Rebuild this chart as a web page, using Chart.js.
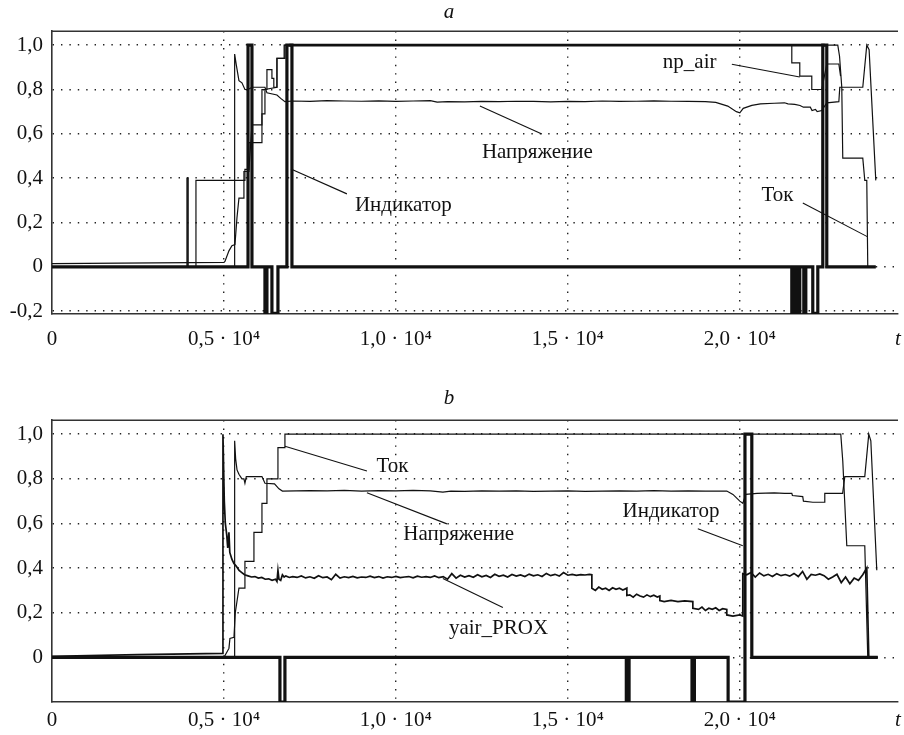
<!DOCTYPE html>
<html>
<head>
<meta charset="utf-8">
<script src="https://cdn.jsdelivr.net/npm/chart.js@4.4.0/dist/chart.umd.min.js"></script>
<style>
  html, body { margin: 0; padding: 0; background: #fff; }
  #wrap { position: relative; width: 904px; height: 735px; }
  .panel { position: absolute; left: 0; width: 904px; }
  #pa { top: 0; height: 365px; }
  #pb { top: 365px; height: 370px; }
</style>
</head>
<body>
<div id="wrap">
  <div class="panel" id="pa"><canvas id="chartA"></canvas></div>
  <div class="panel" id="pb"><canvas id="chartB"></canvas></div>
</div>
<script>
const SERIF = '"Liberation Serif", "Times New Roman", serif';
const X_MAX = 24600;

// axis ticks
const xTickVals = [0, 5000, 10000, 15000, 20000];
const xTickLabels = ['0', '0,5 · 10⁴', '1,0 · 10⁴', '1,5 · 10⁴', '2,0 · 10⁴'];
const yTicksA = [-0.2, 0, 0.2, 0.4, 0.6, 0.8, 1.0];
const yTicksB = [0, 0.2, 0.4, 0.6, 0.8, 1.0];

// ---- panel a ----
const indA_t = [0, 5700, 5700, 5814, 5814, 6192, 6192, 6250, 6250, 6395, 6395, 6570, 6570, 6831, 6831, 6977, 6977,
  21512, 21512, 21599, 21599, 21657, 21657, 21744, 21744, 21861, 21861, 21919, 21919, 22122, 22122, 22268, 22268,
  22413, 22413, 22529, 22529, 23954];
const indA_v = [0, 0, 1, 1, 0, 0, -0.21, -0.21, 0, 0, -0.21, -0.21, 0, 0, 1, 1, 0,
  0, -0.21, -0.21, 0, 0, -0.21, -0.21, 0, 0, -0.21, -0.21, 0, 0, -0.21, -0.21, 0,
  0, 1, 1, 0, 0];
const topA_t = [6900, 22470];
const topA_v = [1, 1];

const tokA_t = [0, 5000, 5029, 5145, 5232, 5320, 5378, 5436, 5581, 5581, 5727, 5727, 6105, 6105, 6192, 6192, 6541, 6541,
  6773, 6773, 22849, 22900, 22965, 22994, 23576, 23634, 23692, 23721, 23954];
const tokA_v = [0.014, 0.02, 0.024, 0.072, 0.095, 0.1, 0.22, 0.31, 0.31, 0.43, 0.43, 0.56, 0.56, 0.69, 0.69, 0.8, 0.81, 0.94,
  0.94, 1.0, 1.0, 0.95, 0.81, 0.49, 0.49, 0.39, 0.39, 0, 0];

const airA_t = [0, 3924, 3924, 3960, 3960, 4186, 4186, 5610, 5610, 5727, 5814, 6105, 6105, 6250, 6250, 6395, 6395, 6450,
  6450, 6541, 6541, 6750, 6750, 21512, 21512, 21744, 21744, 22093, 22093, 22384, 22529, 22880, 22930];
const airA_v = [0, 0, 0.4, 0.4, 0, 0, 0.39, 0.39, 0.44, 0.44, 0.64, 0.64, 0.8, 0.8, 0.89, 0.89, 0.85, 0.85,
  0.81, 0.81, 0.94, 0.94, 1.0, 1.0, 0.92, 0.92, 0.86, 0.86, 0.8, 0.8, 0.915, 0.915, 0.86];

const voltA_t = [0, 5311, 5311, 5360, 5436, 5523, 5610, 5700, 5814, 6192, 6250, 6541, 6650, 6773,
  7000, 7500, 8000, 8500, 9000, 9500, 10000, 10500, 11000, 11200, 11500, 12000, 12500, 13000, 13500, 14000,
  14500, 15000, 15500, 16000, 16500, 17000, 17500, 18000, 18500, 19000, 19300, 19650, 19900, 20000, 20100,
  20350, 20600, 21000, 21300, 21400, 21600, 21750, 21850, 22050, 22100, 22200, 22250, 22384, 22529, 22880,
  22907, 23576, 23692, 23760, 23954];
const voltA_v = [0, 0, 0.96, 0.91, 0.84, 0.83, 0.8, 0.8, 0.81, 0.81, 0.785, 0.775, 0.76, 0.745,
  0.748, 0.746, 0.75, 0.748, 0.747, 0.749, 0.746, 0.748, 0.75, 0.743, 0.745, 0.744, 0.746, 0.745, 0.747, 0.746,
  0.744, 0.746, 0.745, 0.748, 0.746, 0.747, 0.749, 0.747, 0.746, 0.745, 0.742, 0.725, 0.7, 0.695, 0.715,
  0.728, 0.735, 0.738, 0.74, 0.735, 0.733, 0.728, 0.72, 0.72, 0.705, 0.71, 0.7, 0.705, 0.74, 0.745,
  0.81, 0.81, 1.0, 0.98, 0.39];

// ---- panel b ----
const indB_t = [0, 6628, 6628, 6773, 6773, 16700, 16700, 16780, 16780, 18610, 18610, 18680, 18680, 19660, 19660,
  20150, 20150, 20349, 20349, 24012];
const indB_v = [0, 0, -0.2, -0.2, 0, 0, -0.2, -0.2, 0, 0, -0.2, -0.2, 0, 0, -0.2,
  -0.2, 1, 1, 0, 0];

const tokB_t = [0, 5000, 5145, 5174, 5291, 5330, 5436, 5610, 5610, 5872, 5872, 6105, 6105, 6250, 6250, 6570, 6570,
  6773, 6773, 22936, 22994, 23111, 23634, 23721, 24012];
const tokB_v = [0, 0, 0.04, 0.085, 0.09, 0.2, 0.31, 0.31, 0.43, 0.43, 0.56, 0.56, 0.69, 0.69, 0.8, 0.8, 0.94,
  0.94, 1.0, 1.0, 0.88, 0.5, 0.5, 0, 0];

const voltB_t = [0, 5311, 5311, 5340, 5380, 5436, 5523, 5581, 5610, 5650, 6105, 6192, 6470, 6600, 6700,
  7500, 8000, 8500, 9000, 9500, 10000, 10500, 11000, 11366, 11600, 12000, 12500, 13000, 13500, 14000, 14500,
  15000, 15500, 16000, 16500, 17000, 17500, 18000, 18500, 19000, 19622, 19800, 20000, 20087, 20175, 20500,
  21000, 21300, 21512, 21530, 21830, 21850, 22122, 22470, 22471, 22990, 23053, 23634, 23750, 23810, 23983];
const voltB_v = [0, 0, 0.97, 0.89, 0.84, 0.82, 0.8, 0.8, 0.78, 0.81, 0.81, 0.78, 0.777, 0.755, 0.745,
  0.747, 0.746, 0.748, 0.745, 0.747, 0.746, 0.748, 0.746, 0.74, 0.745, 0.744, 0.746, 0.745, 0.746, 0.744, 0.745,
  0.746, 0.744, 0.745, 0.746, 0.745, 0.747, 0.745, 0.746, 0.745, 0.745, 0.73, 0.7, 0.69, 0.73, 0.735,
  0.737, 0.735, 0.735, 0.725, 0.72, 0.7, 0.695, 0.695, 0.735, 0.735, 0.81, 0.81, 1.0, 0.97, 0.39];

const yairB_t = [0, 2500, 4971, 4971, 4990, 5010, 5040, 5080, 5110, 5145, 5170, 5230, 5290, 5350, 5440, 5520, 5600,
  5700, 5800, 5900, 6000, 6100, 6200, 6300, 6400, 6500, 6541, 6570, 6600, 6650, 6700, 6750, 6800, 6900,
  7000, 7125, 7250, 7375, 7500, 7625, 7750, 7875, 8000, 8125, 8250, 8375, 8500, 8625, 8750, 8875,
  9000, 9125, 9250, 9375, 9500, 9625, 9750, 9875, 10000, 10125, 10250, 10375, 10500, 10625, 10750, 10875,
  11000, 11125, 11250, 11375, 11500, 11625, 11750, 11875, 12000, 12125, 12250, 12375, 12500, 12625, 12750, 12875,
  13000, 13125, 13250, 13375, 13500, 13625, 13750, 13875, 14000, 14125, 14250, 14375, 14500, 14625, 14750, 14875,
  15000, 15125, 15250, 15375, 15500, 15625, 15698, 15698, 15800, 15900, 16000, 16100, 16200, 16300, 16400, 16500,
  16600, 16715, 16715, 16800, 16900, 17000, 17100, 17200, 17300, 17400, 17500, 17600, 17675, 17675, 17800, 18000,
  18200, 18400, 18634, 18634, 18800, 18900, 19000, 19100, 19200, 19300, 19400, 19500, 19622, 19622, 19800, 20000,
  20087, 20087, 20200, 20325, 20450, 20575, 20700, 20825, 20950, 21075, 21200, 21325, 21450, 21575, 21700, 21825,
  21950, 22075, 22200, 22325, 22450, 22575, 22700, 22825, 22950, 23075, 23200, 23325, 23450, 23575, 23692, 23750, 24012];
const yairB_v = [0.005, 0.012, 0.018, 1.0, 0.85, 0.7, 0.6, 0.55, 0.49, 0.56, 0.47, 0.44, 0.42, 0.41, 0.39, 0.38, 0.37,
  0.365, 0.36, 0.362, 0.355, 0.358, 0.35, 0.352, 0.345, 0.35, 0.34, 0.39, 0.35, 0.345, 0.37, 0.36, 0.365, 0.358,
  0.362, 0.358, 0.365, 0.356, 0.361, 0.354, 0.366, 0.357, 0.36, 0.348, 0.372, 0.355, 0.361, 0.357, 0.363, 0.356,
  0.36, 0.358, 0.364, 0.357, 0.362, 0.355, 0.361, 0.358, 0.363, 0.357, 0.36, 0.362, 0.356, 0.364, 0.359, 0.362,
  0.358, 0.365, 0.357, 0.362, 0.35, 0.375, 0.355, 0.368, 0.36, 0.366, 0.359, 0.37, 0.361, 0.367, 0.358, 0.372,
  0.363, 0.368, 0.36, 0.371, 0.364, 0.369, 0.362, 0.373, 0.365, 0.37, 0.362, 0.376, 0.366, 0.372, 0.364, 0.38,
  0.368, 0.372, 0.367, 0.371, 0.369, 0.372, 0.37, 0.31, 0.3, 0.315, 0.305, 0.31, 0.3, 0.312, 0.305, 0.31,
  0.302, 0.31, 0.277, 0.28, 0.27, 0.283, 0.275, 0.27, 0.28, 0.272, 0.278, 0.27, 0.275, 0.254, 0.25, 0.255,
  0.25, 0.253, 0.25, 0.22, 0.215, 0.225, 0.21, 0.22, 0.215, 0.222, 0.21, 0.218, 0.215, 0.19, 0.185, 0.19,
  0.185, 0.375, 0.37, 0.38, 0.36, 0.378, 0.365, 0.372, 0.362, 0.375, 0.366, 0.371, 0.364, 0.376, 0.362, 0.385,
  0.35, 0.372, 0.368, 0.374, 0.366, 0.35, 0.36, 0.372, 0.335, 0.36, 0.33, 0.355, 0.345, 0.37, 0.4, 0, 0];

// leader lines [x1, y1, x2, y2]
const leadersA = [[12442, 0.725, 14244, 0.599], [6948, 0.441, 8576, 0.329], [19768, 0.914, 21744, 0.856], [21832, 0.288, 23721, 0.135]];
const leadersB = [[6773, 0.946, 9157, 0.835], [9157, 0.737, 11483, 0.598], [11366, 0.353, 13110, 0.223], [18779, 0.576, 20087, 0.5]];

const notesA = [
  { text: 'Напряжение', x: 12500, y: 0.514 },
  { text: 'Индикатор', x: 8808, y: 0.275 },
  { text: 'np_air', x: 17762, y: 0.922 },
  { text: 'Ток', x: 20631, y: 0.32 }
];
const notesB = [
  { text: 'Ток', x: 9438, y: 0.854 },
  { text: 'Напряжение', x: 10213, y: 0.55 },
  { text: 'yair_PROX', x: 11541, y: 0.131 },
  { text: 'Индикатор', x: 16590, y: 0.654 }
];

function pts(ts, vs) { return ts.map((t, i) => ({ x: t, y: vs[i] })); }

function line(ts, vs, width) {
  return { data: pts(ts, vs), borderColor: '#111', borderWidth: width, pointRadius: 0, tension: 0, fill: false };
}

function leaderSets(list) {
  return list.map(l => ({ data: [{ x: l[0], y: l[1] }, { x: l[2], y: l[3] }], borderColor: '#111', borderWidth: 1.1, pointRadius: 0 }));
}

function notesPlugin(items) {
  return {
    id: 'notes',
    afterDatasetsDraw(chart) {
      const { ctx, scales } = chart;
      ctx.save();
      ctx.font = '21px ' + SERIF;
      ctx.fillStyle = '#111';
      ctx.textBaseline = 'middle';
      ctx.textAlign = 'left';
      items.forEach(n => ctx.fillText(n.text, scales.x.getPixelForValue(n.x), scales.y.getPixelForValue(n.y)));
      ctx.restore();
    }
  };
}

const frameTop = {
  id: 'frameTop',
  afterDraw(chart) {
    const { ctx, chartArea: a } = chart;
    ctx.save();
    ctx.strokeStyle = '#333';
    ctx.lineWidth = 1.6;
    ctx.beginPath();
    ctx.moveTo(a.left, a.top);
    ctx.lineTo(a.right, a.top);
    ctx.stroke();
    ctx.restore();
  }
};

function options(title, yTicks, yMin, yMax, padTop, titleBottom, xHeight, xPad) {
  return {
    animation: false,
    responsive: true,
    maintainAspectRatio: false,
    layout: { padding: { top: padTop, right: 6, left: 0, bottom: 0 } },
    plugins: {
      legend: { display: false },
      tooltip: { enabled: false },
      title: {
        display: true, text: title, color: '#111',
        font: { family: SERIF, size: 21, style: 'italic', weight: 'normal' },
        padding: { top: 0, bottom: titleBottom }
      }
    },
    scales: {
      x: {
        type: 'linear', min: 0, max: X_MAX,
        afterBuildTicks: s => { s.ticks = xTickVals.concat([X_MAX]).map(v => ({ value: v })); },
        afterFit: s => { s.height = xHeight; s.paddingLeft = 0; s.paddingRight = 0; },
        ticks: {
          padding: xPad, autoSkip: false, maxRotation: 0, color: '#111',
          font: ctx => ({ family: SERIF, size: 21, style: ctx.index === xTickVals.length ? 'italic' : 'normal' }),
          callback: (v, i) => i < xTickLabels.length ? xTickLabels[i] : 't'
        },
        grid: {
          drawTicks: false, lineWidth: 1.4,
          color: ctx => (ctx.index > 0 && ctx.index < xTickVals.length) ? '#222' : 'rgba(0,0,0,0)'
        },
        border: { display: true, color: '#333', width: 1.6, dash: [1.4, 7] }
      },
      y: {
        type: 'linear', min: yMin, max: yMax,
        afterBuildTicks: s => { s.ticks = yTicks.map(v => ({ value: v })); },
        afterFit: s => { s.width = 52; s.paddingTop = 0; s.paddingBottom = 0; },
        ticks: {
          padding: 9, color: '#111',
          font: { family: SERIF, size: 21 },
          callback: v => Math.abs(v) < 1e-9 ? '0' : v.toFixed(1).replace('.', ',')
        },
        grid: { drawTicks: false, lineWidth: 1.4, color: '#222' },
        border: { display: true, color: '#333', width: 1.6, dash: [1.4, 7] }
      }
    }
  };
}

new Chart(document.getElementById('chartA'), {
  type: 'line',
  data: {
    datasets: [
      line(indA_t, indA_v, 3.2),
      line(topA_t, topA_v, 2.6),
      line(voltA_t, voltA_v, 1.2),
      line(tokA_t, tokA_v, 1.2),
      line(airA_t, airA_v, 1.2)
    ].concat(leaderSets(leadersA))
  },
  options: options('a', yTicksA, -0.213, 1.063, 0, 6, 51, 13),
  plugins: [notesPlugin(notesA), frameTop]
});

new Chart(document.getElementById('chartB'), {
  type: 'line',
  data: {
    datasets: [
      line(indB_t, indB_v, 3.2),
      line(yairB_t, yairB_v, 1.7),
      line(voltB_t, voltB_v, 1.2),
      line(tokB_t, tokB_v, 1.2)
    ].concat(leaderSets(leadersB))
  },
  options: options('b', yTicksB, -0.2, 1.0625, 21, 9, 33, 6),
  plugins: [notesPlugin(notesB), frameTop]
});
</script>
</body>
</html>
